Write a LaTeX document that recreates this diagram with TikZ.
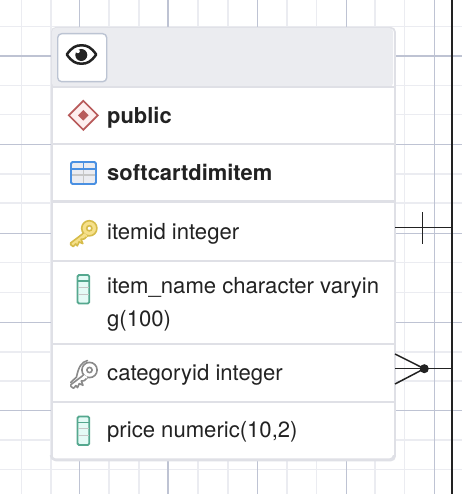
\documentclass[tikz,border=0pt]{standalone}
\usepackage{fontspec}
\setmainfont{TeX Gyre Heros}
\definecolor{gridl}{HTML}{EBECF1}
\definecolor{gridd}{HTML}{BEC3D3}
\definecolor{bord}{HTML}{DFE0E6}
\definecolor{headf}{HTML}{EBECF0}
\definecolor{ink}{HTML}{222222}
\definecolor{btn}{HTML}{BCC4D3}
\definecolor{gold}{HTML}{D6BC4A}
\definecolor{goldf}{HTML}{F6E08A}
\definecolor{keyg}{HTML}{8A8A8A}
\definecolor{colst}{HTML}{55A88F}
\definecolor{colf}{HTML}{E4FBF6}
\definecolor{red1}{HTML}{B85A5A}
\definecolor{red2}{HTML}{FDEEEE}
\definecolor{blue1}{HTML}{4A90E2}
\tikzset{
  gl/.style={gridl,line width=1.3pt},
  gd/.style={gridd,line width=1.1pt},
  sep/.style={bord,line width=1.8pt},
  lab/.style={anchor=base west,inner sep=0pt,text=ink,font=\fontsize{22.1}{26}\selectfont},
  blab/.style={lab,font=\fontsize{21.9}{26}\selectfont\bfseries},
  rel/.style={ink,line width=1.5pt},
  relb/.style={ink,line width=1.9pt}
}
\newcommand{\keypath}[2]{%
  \filldraw[fill=#2,draw=#1,line width=1.6pt,even odd rule] (0,0) circle (7.6) (0,0) circle (2.6);
  \filldraw[fill=#2,draw=#1,line width=1.6pt,line join=round]
    (-5.5,4.7) -- (-18.6,14.6) -- (-18.6,16.4) -- (-16,18.3) -- (-13.6,15.6)
    -- (-12,17.6) -- (-10.2,13.6) -- (-6.5,15.3) -- (-8.2,11) -- (-5,10.6) -- (-1.8,7.4);
  \fill[#2] (-5.2,5.3) -- (-2.3,7) -- (-2.5,8.6) -- (-6.5,6.5) -- cycle;
}
\begin{document}
\begin{tikzpicture}[x=1pt,y=-1pt]
\useasboundingbox (0,0) rectangle (462,494);
\fill[white] (0,0) rectangle (462,494);
% grid
\foreach \x in {21.7,51,109,139,198,228,287,316.7,375,404.7} \draw[gl] (\x,0) -- (\x,494);
\foreach \y in {26.7,85.7,114.7,174,203,262.7,292.7,352,381,440,469.3} \draw[gl] (0,\y) -- (462,\y);
\foreach \x in {79.5,168,257.7,346.7,434.7} \draw[gd] (\x,0) -- (\x,494);
\foreach \y in {56,144.3,233.3,322.3,410.3} \draw[gd] (0,\y) -- (462,\y);
% entity
\node[draw=bord,fill=white,line width=1.8pt,rounded corners=4pt,minimum width=343pt,minimum height=432.5pt,inner sep=0pt,anchor=north west] (entity) at (51,27) {};
\fill[headf,rounded corners=4pt] (51.9,27.9) -- (51.9,87) -- (393.1,87) -- (393.1,27.9) -- cycle;
\draw[sep] (51,87.3) -- (394,87.3);
\draw[sep] (51,144.3) -- (394,144.3);
\draw[bord,line width=2.8pt] (51,201.8) -- (394,201.8);
\draw[sep] (51,261) -- (394,261);
\draw[sep] (51,344.3) -- (394,344.3);
\draw[sep] (51,401.7) -- (394,401.7);
\draw[bord,line width=2.4pt,rounded corners=4pt] (51,455) -- (51,459.5) -- (394,459.5) -- (394,455);
% button
\node[draw=btn,fill=white,line width=1.4pt,rounded corners=4pt,minimum width=49pt,minimum height=48pt,inner sep=0pt,anchor=north west] (button) at (57,33) {};
% eye
\draw[ink,line width=2.5pt,line join=round] (66.8,54.5) .. controls (72,47) and (76,45.3) .. (81.5,45.3) .. controls (87,45.3) and (91,47) .. (96.2,54.5) .. controls (91,62) and (87,63.7) .. (81.5,63.7) .. controls (76,63.7) and (72,62) .. (66.8,54.5) -- cycle;
\fill[ink] (81.3,55) circle (6);
\fill[white] (77.8,51.2) circle (2);
% diamond
\filldraw[fill=red2,draw=red1,line width=1.7pt] (83.3,100.8) -- (97.8,115.3) -- (83.3,129.8) -- (68.8,115.3) -- cycle;
\fill[red1] (83.3,110) -- (88.6,115.3) -- (83.3,120.6) -- (78,115.3) -- cycle;
% table icon
\fill[gridl] (71,162) rectangle (96,184);
\draw[gray!45,line width=1.2pt] (83.5,162) -- (83.5,184) (71,175) -- (96,175);
\draw[blue1,line width=1.4pt] (83.5,162) -- (83.5,169) (71,169) -- (96,169);
\draw[blue1,line width=1.8pt,rounded corners=1.5pt] (71,162) rectangle (96,184);
% gold key
\begin{scope}[shift={(89.3,228.3)}]
\keypath{gold}{goldf}
\end{scope}
% gray key
\begin{scope}[shift={(89.5,370)}]
\draw[keyg,line width=1.6pt,line cap=round] (-18.8,12.5) -- (-13,7) .. controls (-11,-3) and (-8,-8) .. (-2,-9.5);
\keypath{keyg}{white}
\end{scope}
% column icons
\foreach \t in {275,416.5}{
  \filldraw[fill=colf,draw=colst,line width=1.8pt,rounded corners=1.5pt] (77.5,\t) rectangle (89.3,\t+28.5);
  \draw[colst,line width=1.5pt] (77.5,\t+6.2) -- (89.3,\t+6.2);
  \draw[gray!45,line width=1pt] (78.3,\t+12) -- (88.5,\t+12) (78.3,\t+19) -- (88.5,\t+19);
}
% labels
\node[blab] (public) at (107,123.3) {public};
\node[blab] (tablename) at (107,180) {softcartdimitem};
\node[lab] (itemid) at (107,239.3) {itemid integer};
\node[lab] (itemname) at (107,293.3) {item\_name character varyin};
\node[lab] (itemname2) at (107,326) {g(100)};
\node[lab] (categoryid) at (107,380) {categoryid integer};
\node[lab] (price) at (107,437.3) {price numeric(10,2)};
% connectors
\coordinate (top) at (452,0);
\coordinate (bot) at (452,494);
\coordinate (one) at (452,227.7);
\coordinate (many) at (452,368.7);
\coordinate (e1) at (395,227.7);
\coordinate (e2) at (395,368.7);
\coordinate (m1) at (395,354);
\coordinate (m2) at (395,384);
\coordinate (t1) at (422.5,212);
\coordinate (t2) at (422.5,243.5);
\node[circle,fill=ink,inner sep=0pt,minimum size=9pt] (dot) at (424.3,368.7) {};
\draw[relb] (top) -- (bot);
\draw[rel] (e1) -- (one);
\draw[rel] (t1) -- (t2);
\draw[rel] (e2) -- (many);
\draw[rel] (m1) -- (dot.center);
\draw[rel] (m2) -- (dot.center);
\end{tikzpicture}
\end{document}
